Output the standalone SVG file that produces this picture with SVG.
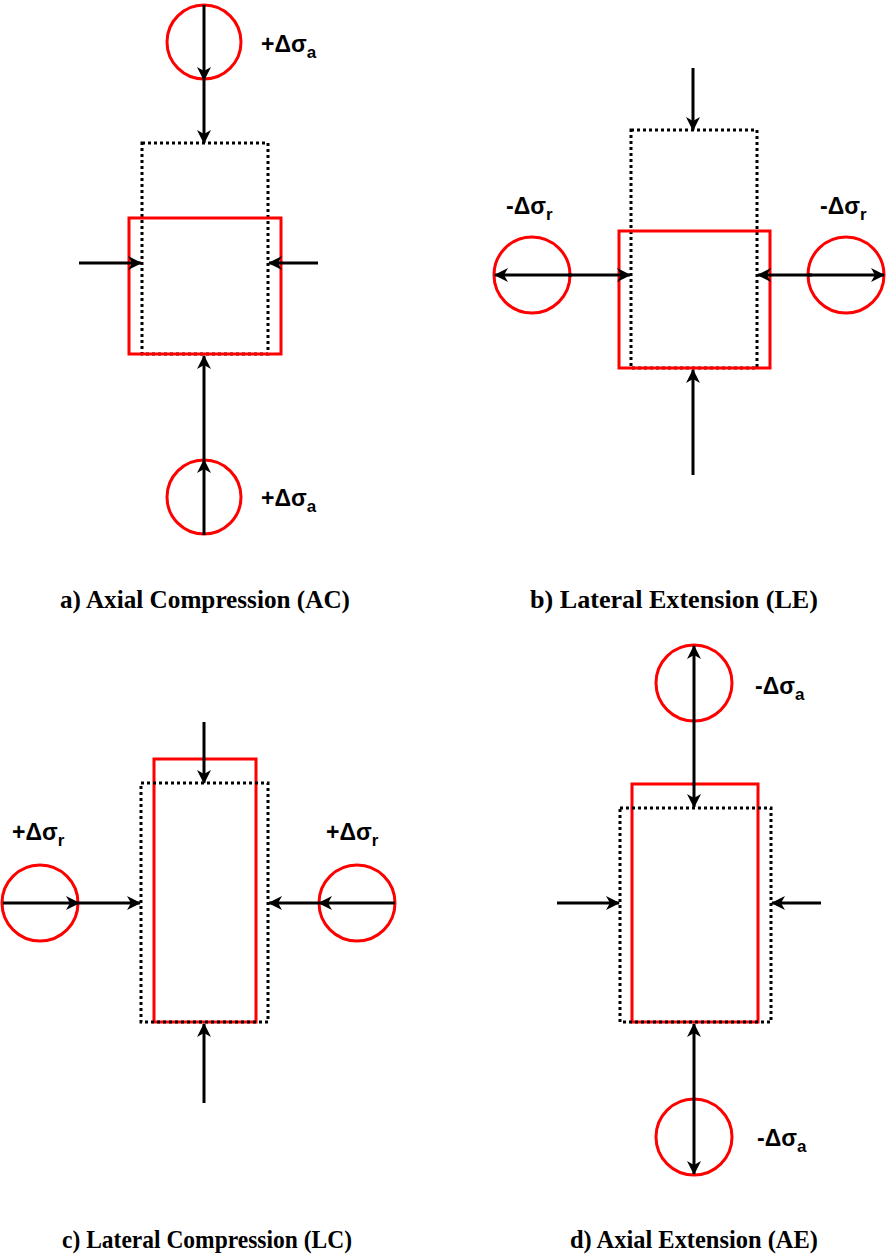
<svg xmlns="http://www.w3.org/2000/svg" width="888" height="1255" viewBox="0 0 888 1255">
<style>
.red{fill:none;stroke:#ff0000;stroke-width:3}
.dot{fill:none;stroke:#000;stroke-width:3;stroke-dasharray:3 3}
.ar{stroke:#000;stroke-width:3;fill:none;marker-end:url(#ah)}
.lbl{font-family:"Liberation Sans",Arial,sans-serif;font-weight:bold;font-size:23px;fill:#000}
.sub{font-size:17px}
.cap{font-family:"Liberation Serif","Times New Roman",serif;font-weight:bold;font-size:26px;fill:#000}
</style>
<defs>
<marker id="ah" viewBox="0 0 14 14" refX="13" refY="7" markerWidth="14" markerHeight="14" markerUnits="userSpaceOnUse" orient="auto">
<path d="M0,0 L14,7 L0,14 L4,7 z" fill="#000"/>
</marker>
</defs>
<g id="panel-a">
<rect class="dot" x="142" y="143" width="126" height="211"/>
<rect class="red" x="129" y="218" width="152" height="136"/>
<circle class="red" cx="204" cy="42" r="37"/>
<circle class="red" cx="204" cy="497" r="37"/>
<text class="lbl" x="261" y="52">+Δσ<tspan class="sub" dy="6">a</tspan></text>
<text class="lbl" x="261" y="506">+Δσ<tspan class="sub" dy="6">a</tspan></text>
<text class="cap" x="60" y="608" textLength="290" lengthAdjust="spacingAndGlyphs">a) Axial Compression (AC)</text>
</g>
<g id="panel-b">
<rect class="dot" x="631" y="130" width="126" height="238"/>
<rect class="red" x="619" y="231" width="151" height="137"/>
<circle class="red" cx="532" cy="275" r="38"/>
<circle class="red" cx="846" cy="275" r="38"/>
<text class="lbl" x="506" y="214">-Δσ<tspan class="sub" dy="6">r</tspan></text>
<text class="lbl" x="820" y="214">-Δσ<tspan class="sub" dy="6">r</tspan></text>
<text class="cap" x="530" y="608" textLength="288" lengthAdjust="spacingAndGlyphs">b) Lateral Extension (LE)</text>
</g>
<g id="panel-c">
<rect class="red" x="154" y="759" width="102" height="263"/>
<rect class="dot" x="141" y="783" width="127" height="239"/>
<circle class="red" cx="40" cy="903" r="38"/>
<circle class="red" cx="357" cy="903" r="38"/>
<text class="lbl" x="12" y="840">+Δσ<tspan class="sub" dy="6">r</tspan></text>
<text class="lbl" x="326" y="840">+Δσ<tspan class="sub" dy="6">r</tspan></text>
<text class="cap" x="62" y="1248" textLength="290" lengthAdjust="spacingAndGlyphs">c) Lateral Compression (LC)</text>
</g>
<g id="panel-d">
<rect class="red" x="632" y="784" width="126" height="238"/>
<rect class="dot" x="620" y="808" width="151" height="214"/>
<circle class="red" cx="694" cy="683" r="38"/>
<circle class="red" cx="694" cy="1137" r="38"/>
<text class="lbl" x="755" y="694">-Δσ<tspan class="sub" dy="6">a</tspan></text>
<text class="lbl" x="757" y="1146">-Δσ<tspan class="sub" dy="6">a</tspan></text>
<text class="cap" x="570" y="1248" textLength="248" lengthAdjust="spacingAndGlyphs">d) Axial Extension (AE)</text>
</g>
<g id="connectors">
<line class="ar" x1="204" y1="5" x2="204" y2="80"/>
<line class="ar" x1="204" y1="80" x2="204" y2="143"/>
<line class="ar" x1="79" y1="263" x2="141" y2="263"/>
<line class="ar" x1="318" y1="263" x2="269" y2="263"/>
<line class="ar" x1="204" y1="535" x2="204" y2="460"/>
<line class="ar" x1="204" y1="460" x2="204" y2="356"/>
<line class="ar" x1="693" y1="68" x2="693" y2="130"/>
<line class="ar" x1="693" y1="475" x2="693" y2="370"/>
<line class="ar" x1="572" y1="275" x2="495" y2="275"/>
<line class="ar" x1="568" y1="275" x2="630" y2="275"/>
<line class="ar" x1="808" y1="275" x2="884" y2="275"/>
<line class="ar" x1="812" y1="275" x2="758" y2="275"/>
<line class="ar" x1="204" y1="722" x2="204" y2="783"/>
<line class="ar" x1="204" y1="1103" x2="204" y2="1024"/>
<line class="ar" x1="3" y1="903" x2="79" y2="903"/>
<line class="ar" x1="79" y1="903" x2="140" y2="903"/>
<line class="ar" x1="395" y1="903" x2="319" y2="903"/>
<line class="ar" x1="319" y1="903" x2="269" y2="903"/>
<line class="ar" x1="694" y1="720" x2="694" y2="646"/>
<line class="ar" x1="694" y1="720" x2="694" y2="807"/>
<line class="ar" x1="557" y1="903" x2="619" y2="903"/>
<line class="ar" x1="821" y1="903" x2="772" y2="903"/>
<line class="ar" x1="694" y1="1100" x2="694" y2="1024"/>
<line class="ar" x1="694" y1="1100" x2="694" y2="1174"/>
</g>
</svg>
